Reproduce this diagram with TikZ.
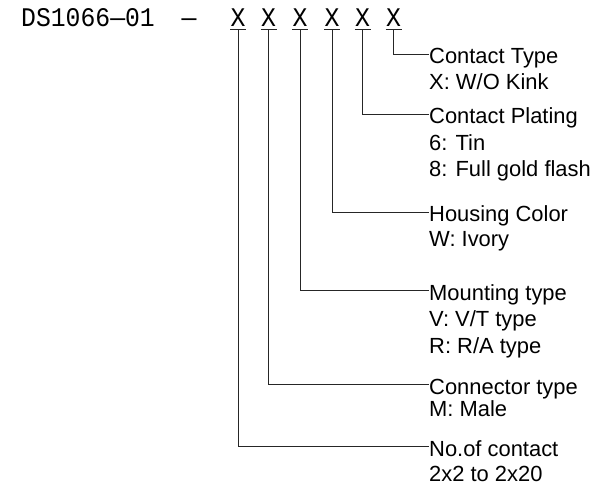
\documentclass[tikz,border=0pt]{standalone}
\usepackage{fontspec}
\setmainfont{Liberation Sans}
\newfontfamily\hdrfont{Liberation Mono}[FakeStretch=0.92]
\begin{document}
\begin{tikzpicture}[x=1bp,y=-1bp,
  lbl/.style={anchor=base west, inner sep=0pt, font=\fontsize{22}{25}\selectfont},
  hdr/.style={inner sep=0pt, font=\hdrfont\fontsize{27}{30}\selectfont},
  conn/.style={line width=0.9bp, draw=black!85}]
\useasboundingbox (0,0) rectangle (608,493);
% header
\node[hdr, anchor=base west] (pn) at (21,26.5) {DS1066—01};
\node[hdr, anchor=base] (dash) at (189,26.5) {—};
\foreach \i/\x in {1/238,2/268.5,3/300,4/332,5/362.5,6/393.5}{
  \node[hdr, anchor=base] (x\i) at (\x,26.5) {X};
  \coordinate (u\i) at (\x,29.5);
  \draw[conn] ([xshift=-8bp]u\i) -- ([xshift=8bp]u\i);
}
% labels
\node[lbl] (l1a) at (429,64) {Contact Type};
\node[lbl] (l1b) at (429,90) {X: W/O Kink};
\node[lbl] (l2a) at (429,124) {Contact Plating};
\node[lbl] (l2b) at (429,151) {6: Tin};
\node[lbl] (l2c) at (429,177) {8: Full gold flash};
\node[lbl] (l3a) at (429,222) {Housing Color};
\node[lbl] (l3b) at (429,246) {W: Ivory};
\node[lbl] (l4a) at (429,300) {Mounting type};
\node[lbl] (l4b) at (429,326) {V: V/T type};
\node[lbl] (l4c) at (429,353) {R: R/A type};
\node[lbl] (l5a) at (429,394) {Connector type};
\node[lbl] (l5b) at (429,416) {M: Male};
\node[lbl] (l6a) at (429,456) {No.of contact};
\node[lbl] (l6b) at (429,481) {2x2 to 2x20};
% connectors
\draw[conn] (u6) |- ([yshift=10bp]l1a.base west);
\draw[conn] (u5) |- ([yshift=10bp]l2a.base west);
\draw[conn] (u4) |- ([yshift=10bp]l3a.base west);
\draw[conn] (u3) |- ([yshift=10bp]l4a.base west);
\draw[conn] (u2) |- ([yshift=10bp]l5a.base west);
\draw[conn] (u1) |- ([yshift=10bp]l6a.base west);
\end{tikzpicture}
\end{document}
